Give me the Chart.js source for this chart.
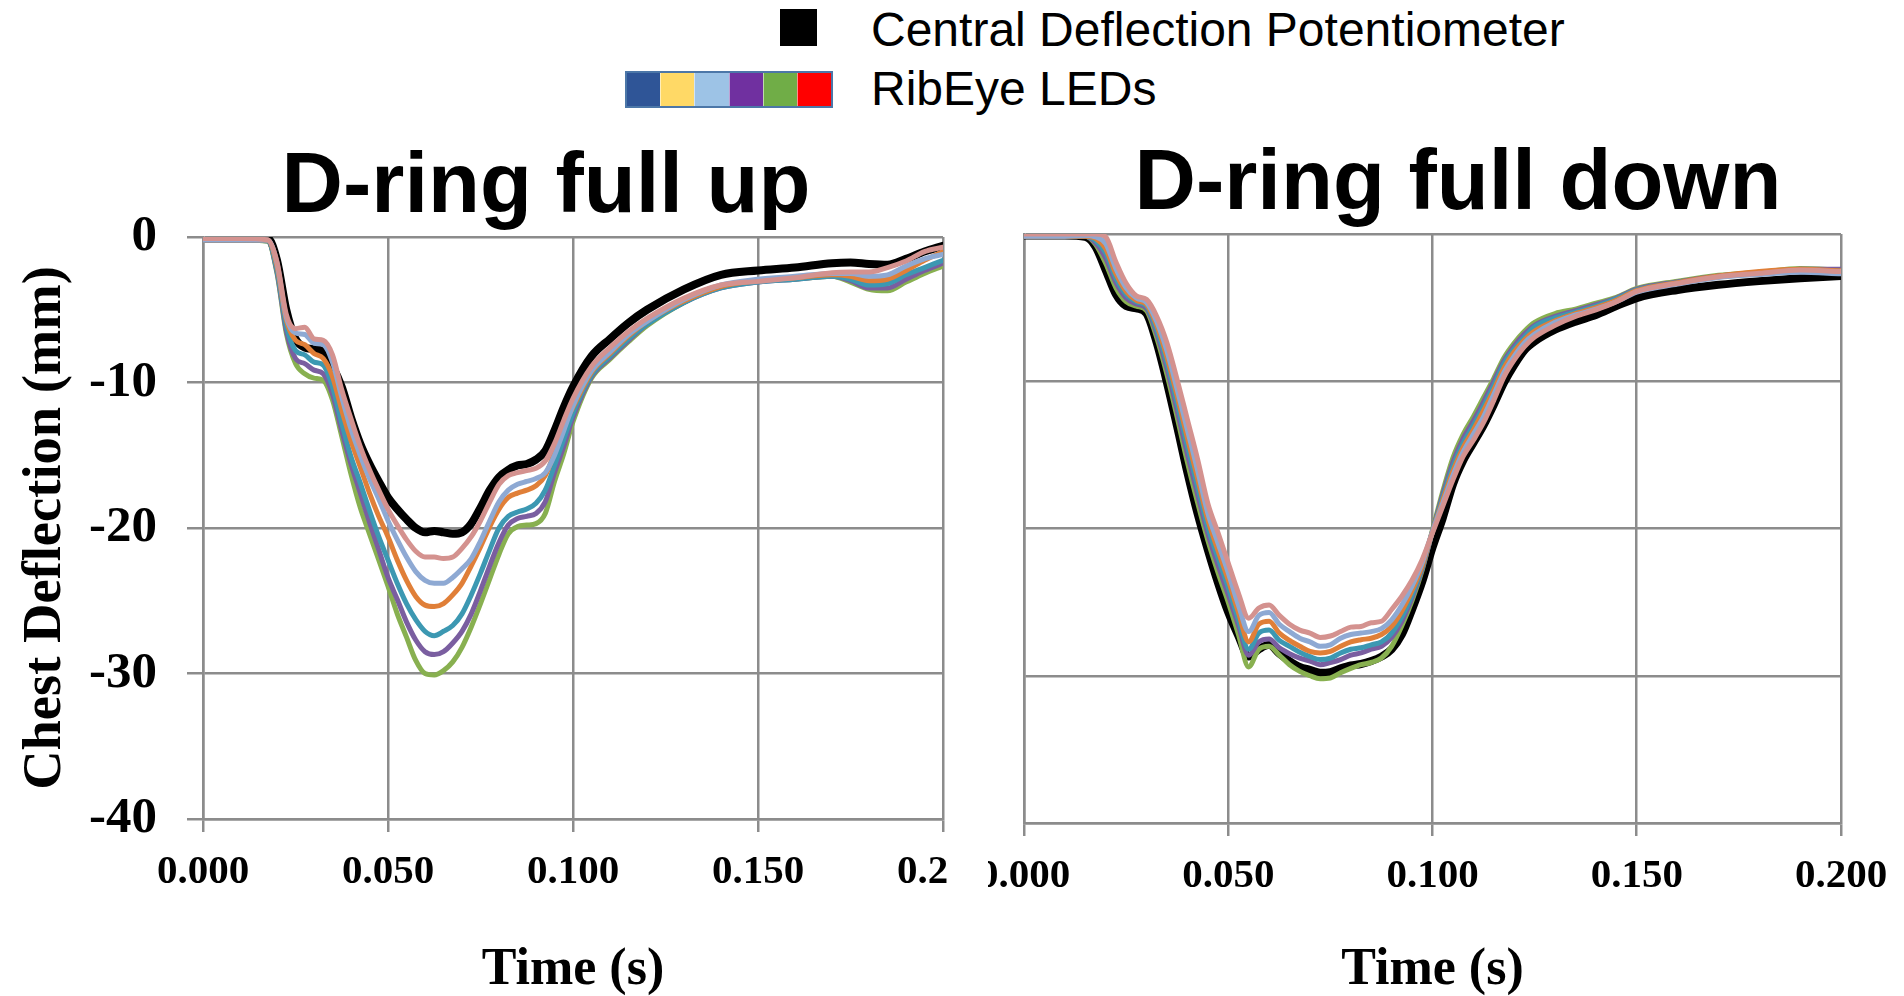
<!DOCTYPE html>
<html>
<head>
<meta charset="utf-8">
<script src="https://cdn.jsdelivr.net/npm/chart.js@4.4.0/dist/chart.umd.min.js"></script>
<style>
  html, body { margin: 0; padding: 0; background: #fff; }
  body { width: 1904px; height: 996px; position: relative; overflow: hidden; font-family: "Liberation Sans", Arial, sans-serif; }
  .box { position: absolute; top: 0; height: 996px; overflow: hidden; }
  #boxUp { left: 0; width: 948px; }
  #boxDown { left: 988px; width: 916px; }
  #boxDown canvas { position: absolute; left: -62px; top: 0; }
  .title { position: absolute; width: 1000px; text-align: center; font-weight: bold; font-size: 85px; line-height: 85px; white-space: nowrap; }
  .lg { position: absolute; left: 871px; font-size: 48px; line-height: 48px; white-space: nowrap; }
  #sqPot { position: absolute; left: 780px; top: 9px; width: 37px; height: 37px; background: #000; }
  #ledBar { position: absolute; left: 625px; top: 71px; width: 204px; height: 33px; display: flex; border: 2px solid #4c77a8; }
  #ledBar span { flex: 1; border-left: 1px solid rgba(255,255,255,.55); }
  #ledBar span:first-child { border-left: none; }
</style>
</head>
<body>
<div id="sqPot"></div>
<div class="lg" style="top:6px">Central Deflection Potentiometer</div>
<div id="ledBar"><span style="background:#2f5597"></span><span style="background:#ffd966"></span><span style="background:#9dc3e6"></span><span style="background:#7030a0"></span><span style="background:#70ad47"></span><span style="background:#ff0000"></span></div>
<div class="lg" style="top:65px">RibEye LEDs</div>

<div class="title" style="left:46px;top:140px">D-ring full up</div>
<div class="title" style="left:958px;top:137px">D-ring full down</div>

<div class="box" id="boxUp"><canvas id="cUp" width="1008" height="996"></canvas></div>
<div class="box" id="boxDown"><canvas id="cDown" width="978" height="996"></canvas></div>

<script>
// ---- D-ring full up (s, mm) ----
const tUp = [0, 0.010, 0.0175, 0.020, 0.0225, 0.025, 0.0275, 0.030, 0.0325, 0.035, 0.0375, 0.040, 0.0425, 0.045, 0.0475,
  0.050, 0.0525, 0.055, 0.0575, 0.060, 0.0625, 0.065, 0.0675, 0.070, 0.0725, 0.075, 0.0775, 0.080, 0.0825, 0.085, 0.0875,
  0.090, 0.0925, 0.095, 0.0975, 0.100, 0.105, 0.110, 0.115, 0.120, 0.130, 0.140, 0.150, 0.160, 0.170, 0.175, 0.180, 0.185,
  0.190, 0.195, 0.200];
const upPot = [-0.1, -0.1, -0.1, -1.6, -5.0, -7.0, -7.6, -7.7, -7.9, -8.9, -10.3, -12.4, -14.2, -15.6, -16.8, -17.9, -18.7,
  -19.4, -20.0, -20.3, -20.2, -20.3, -20.4, -20.3, -19.7, -18.6, -17.4, -16.5, -16.0, -15.7, -15.6, -15.3, -14.7, -13.3,
  -11.7, -10.3, -8.2, -7.0, -5.9, -5.0, -3.6, -2.6, -2.3, -2.1, -1.8, -1.75, -1.85, -1.9, -1.5, -1.0, -0.6];
const upPink = [-0.1, -0.1, -0.2, -1.7, -5.3, -6.3, -6.2, -7.0, -7.1, -8.1, -10.5, -12.5, -14.4, -16.0, -17.4, -18.7, -19.8,
  -20.8, -21.6, -22.0, -22.0, -22.1, -22.0, -21.4, -20.6, -19.5, -18.2, -17.0, -16.4, -16.2, -16.05, -15.9, -15.4, -14.2,
  -12.6, -11.1, -8.9, -7.6, -6.5, -5.6, -4.2, -3.3, -3.05, -2.8, -2.45, -2.4, -2.4, -2.1, -1.65, -1.0, -0.7];
const upLightBlue = [-0.2, -0.2, -0.2, -1.8, -5.5, -6.6, -6.7, -7.3, -7.4, -8.6, -11.0, -13.2, -15.0, -16.6, -18.0, -19.5,
  -20.8, -22.0, -23.0, -23.6, -23.8, -23.8, -23.4, -22.8, -22.1, -20.9, -19.5, -18.2, -17.4, -17.0, -16.8, -16.6, -16.2,
  -15.0, -13.3, -11.6, -9.2, -7.9, -6.7, -5.8, -4.3, -3.3, -2.9, -2.7, -2.5, -2.5, -2.7, -2.6, -2.0, -1.5, -1.2];
const upOrange = [-0.2, -0.2, -0.2, -2.0, -5.7, -7.1, -7.4, -8.0, -8.35, -9.6, -11.9, -14.0, -15.8, -17.6, -19.2, -20.6,
  -22.2, -23.6, -24.7, -25.3, -25.4, -25.2, -24.6, -23.8, -22.6, -21.3, -19.9, -18.7, -17.9, -17.6, -17.4, -17.1, -16.4,
  -14.8, -13.0, -11.7, -9.3, -8.0, -6.8, -5.8, -4.4, -3.4, -3.0, -2.8, -2.6, -2.7, -3.0, -2.9, -2.3, -1.6, -1.0];
const upTeal = [-0.2, -0.2, -0.25, -2.3, -6.1, -7.8, -8.1, -8.6, -8.8, -10.3, -12.8, -15.1, -16.9, -18.8, -20.6, -22.2,
  -23.8, -25.2, -26.3, -27.1, -27.4, -27.1, -26.7, -25.9, -24.6, -23.1, -21.5, -20.0, -19.2, -18.9, -18.7, -18.3, -17.4,
  -15.7, -13.9, -12.1, -9.5, -8.2, -7.0, -6.0, -4.5, -3.5, -3.1, -2.9, -2.7, -2.9, -3.3, -3.2, -2.6, -2.1, -1.6];
const upPurple = [-0.2, -0.2, -0.25, -2.4, -6.4, -8.35, -8.7, -9.15, -9.4, -10.8, -13.3, -15.6, -17.6, -19.6, -21.5, -23.4,
  -24.9, -26.45, -27.7, -28.5, -28.7, -28.5, -27.9, -27.1, -25.9, -24.3, -22.6, -21.0, -19.8, -19.35, -19.2, -19.0, -18.2,
  -16.2, -14.4, -12.4, -9.6, -8.3, -7.1, -6.0, -4.5, -3.5, -3.1, -2.9, -2.7, -3.0, -3.5, -3.5, -2.9, -2.3, -1.8];
const upGreen = [-0.2, -0.2, -0.3, -2.5, -6.6, -8.7, -9.4, -9.7, -9.85, -11.2, -13.7, -16.3, -18.6, -20.4, -22.2, -24.0,
  -25.9, -27.5, -29.1, -30.0, -30.1, -29.8, -29.2, -28.2, -26.8, -25.2, -23.5, -21.8, -20.4, -19.9, -19.8, -19.7, -19.0,
  -16.8, -14.9, -12.7, -9.7, -8.4, -7.2, -6.1, -4.5, -3.4, -3.0, -2.9, -2.7, -3.1, -3.6, -3.7, -3.1, -2.5, -2.0];

// ---- D-ring full down (s, mm) ----
const tDown = [0, 0.010, 0.015, 0.0175, 0.020, 0.0225, 0.025, 0.0275, 0.030, 0.0325, 0.035, 0.0375, 0.040, 0.0425, 0.045,
  0.0475, 0.050, 0.0525, 0.055, 0.0575, 0.060, 0.0625, 0.065, 0.0675, 0.070, 0.0725, 0.075, 0.0775, 0.080, 0.0825, 0.085,
  0.0875, 0.090, 0.0925, 0.095, 0.0975, 0.100, 0.1025, 0.105, 0.1075, 0.110, 0.1125, 0.115, 0.1175, 0.120, 0.1225, 0.125,
  0.130, 0.135, 0.140, 0.145, 0.150, 0.160, 0.170, 0.180, 0.190, 0.200];
const downPot = [-0.1, -0.1, -0.2, -0.86, -2.45, -4.1, -4.9, -5.05, -5.4, -7.4, -10.1, -13.1, -16.2, -19.0, -21.45, -23.7,
  -25.7, -27.3, -28.7, -28.2, -27.9, -28.5, -29.0, -29.4, -29.6, -29.8, -29.75, -29.5, -29.3, -29.2, -29.0, -28.7, -28.2,
  -27.2, -25.5, -23.6, -21.3, -19.3, -17.0, -15.4, -14.2, -13.0, -11.6, -10.1, -8.9, -7.9, -7.3, -6.5, -5.95, -5.5, -4.9,
  -4.35, -3.8, -3.45, -3.2, -3.0, -2.85];
const downPink = [0, 0, 0, 0, -0.2, -1.9, -3.35, -4.2, -4.45, -5.6, -7.4, -9.9, -12.6, -15.3, -18.3, -20.3, -22.35, -24.4,
  -26.1, -25.4, -25.2, -25.9, -26.5, -26.9, -27.1, -27.4, -27.3, -27.0, -26.7, -26.65, -26.4, -26.3, -25.5, -24.6, -23.5,
  -22.1, -20.3, -18.5, -16.7, -15.1, -14.0, -12.8, -11.3, -9.7, -8.55, -7.65, -7.0, -6.2, -5.6, -5.15, -4.6, -3.9, -3.35,
  -2.9, -2.67, -2.44, -2.55];
const downLightBlue = [-0.15, -0.15, -0.1, -0.2, -0.65, -2.35, -3.65, -4.35, -4.65, -5.95, -7.95, -10.55, -13.3, -16.05,
  -18.95, -21.0, -23.0, -25.2, -27.0, -25.9, -25.7, -26.5, -27.0, -27.45, -27.7, -28.0, -27.9, -27.45, -27.2, -27.1, -27.0,
  -26.8, -26.2, -25.2, -23.9, -22.3, -20.2, -18.3, -16.4, -14.8, -13.6, -12.4, -10.9, -9.4, -8.3, -7.4, -6.8, -6.0, -5.5,
  -5.1, -4.6, -3.95, -3.4, -2.95, -2.75, -2.6, -2.7];
const downOrange = [-0.15, -0.15, -0.15, -0.3, -1.0, -2.7, -3.9, -4.5, -4.8, -6.2, -8.35, -11.0, -13.85, -16.6, -19.4, -21.5,
  -23.5, -25.7, -27.7, -26.5, -26.3, -27.1, -27.6, -28.0, -28.35, -28.45, -28.35, -28.0, -27.7, -27.55, -27.45, -27.2,
  -26.65, -25.6, -24.2, -22.5, -20.2, -18.1, -16.1, -14.5, -13.3, -12.0, -10.6, -9.1, -8.0, -7.2, -6.6, -5.9, -5.4, -5.0,
  -4.5, -3.85, -3.3, -2.85, -2.55, -2.4, -2.5];
const downTeal = [-0.15, -0.15, -0.15, -0.45, -1.3, -3.0, -4.1, -4.6, -4.9, -6.5, -8.75, -11.5, -14.4, -17.15, -19.9, -22.0,
  -24.0, -26.2, -28.2, -27.1, -26.9, -27.6, -28.0, -28.4, -28.7, -28.9, -28.8, -28.45, -28.2, -28.1, -27.9, -27.7, -27.1,
  -26.0, -24.5, -22.6, -20.2, -17.9, -15.8, -14.2, -13.0, -11.7, -10.3, -8.8, -7.8, -7.0, -6.3, -5.7, -5.3, -4.9, -4.4,
  -3.8, -3.3, -2.9, -2.7, -2.45, -2.5];
const downPurple = [-0.15, -0.15, -0.15, -0.6, -1.66, -3.3, -4.35, -4.75, -5.05, -6.75, -9.15, -12.0, -14.95, -17.7, -20.35,
  -22.5, -24.5, -26.6, -28.6, -27.7, -27.5, -28.1, -28.5, -28.8, -29.0, -29.25, -29.1, -28.9, -28.6, -28.45, -28.2, -28.0,
  -27.4, -26.3, -24.7, -22.7, -20.2, -17.7, -15.5, -13.9, -12.7, -11.4, -10.0, -8.6, -7.6, -6.8, -6.2, -5.6, -5.2, -4.8,
  -4.35, -3.75, -3.25, -2.85, -2.65, -2.4, -2.4];
const downGreen = [-0.15, -0.15, -0.15, -0.7, -2.0, -3.65, -4.6, -4.9, -5.2, -7.05, -9.55, -12.45, -15.5, -18.25, -20.8,
  -23.0, -25.0, -27.2, -29.4, -28.2, -28.0, -28.6, -29.25, -29.7, -30.0, -30.2, -30.15, -29.8, -29.5, -29.25, -29.1, -28.8,
  -28.0, -26.6, -24.9, -22.8, -20.1, -17.5, -15.2, -13.6, -12.4, -11.1, -9.8, -8.4, -7.4, -6.6, -6.0, -5.4, -5.1, -4.7,
  -4.3, -3.7, -3.2, -2.8, -2.6, -2.35, -2.45];

const xTicks = [0, 0.05, 0.10, 0.15, 0.20];
const yTicks = [0, -10, -20, -30, -40];

const COLORS = {
  pot: '#000000', pink: '#d4928f', lightBlue: '#8ea9d3', orange: '#e07f38',
  teal: '#3c98b2', purple: '#7a5ea0', green: '#88b050'
};
const GRID = '#8c8c8c';
const SERIF = "'Liberation Serif', 'Times New Roman', serif";

Chart.defaults.animation = false;

// first dataset is painted last (on top), so the potentiometer goes at the end
function buildSets(t, s) {
  const list = [
    [s.pink, COLORS.pink, 5], [s.lightBlue, COLORS.lightBlue, 5], [s.orange, COLORS.orange, 5],
    [s.teal, COLORS.teal, 5], [s.purple, COLORS.purple, 5], [s.green, COLORS.green, 5],
    [s.pot, COLORS.pot, 8]
  ];
  return list.map(([v, color, w]) => ({
    data: t.map((x, i) => ({ x, y: v[i] })),
    borderColor: color, borderWidth: w,
    pointRadius: 0, pointHoverRadius: 0, fill: false,
    cubicInterpolationMode: 'monotone',
    borderJoinStyle: 'round', borderCapStyle: 'round'
  }));
}

function makeChart(id, t, s, o) {
  return new Chart(document.getElementById(id), {
    type: 'line',
    data: { datasets: buildSets(t, s) },
    options: {
      responsive: false,
      layout: { padding: { top: o.top, right: o.right, left: 0, bottom: 0 } },
      plugins: { legend: { display: false }, tooltip: { enabled: false }, title: { display: false } },
      scales: {
        x: {
          type: 'linear', min: 0, max: 0.2,
          afterBuildTicks: sc => { sc.ticks = xTicks.map(v => ({ value: v })); },
          afterFit: sc => { sc.height = o.xHeight; },
          ticks: {
            callback: v => v.toFixed(3), color: '#000', padding: 16,
            maxRotation: 0, minRotation: 0, autoSkip: false,
            font: { family: SERIF, size: 41, weight: 'bold' }
          },
          grid: { color: GRID, lineWidth: 2.5, tickLength: 13 },
          border: { color: GRID, width: 2.5 },
          title: {
            display: true, text: 'Time (s)', color: '#000', padding: { top: 0, bottom: -6 },
            font: { family: SERIF, size: 52, weight: 'bold' }
          }
        },
        y: {
          min: -40, max: 0,
          afterBuildTicks: sc => { sc.ticks = yTicks.map(v => ({ value: v })); },
          afterFit: sc => { sc.width = o.yWidth; },
          ticks: {
            display: o.yLabels, color: '#000', padding: 30,
            font: { family: SERIF, size: 51, weight: 'bold' }
          },
          grid: { color: GRID, lineWidth: 2.5, tickLength: 16, drawTicks: o.yLabels },
          border: { color: GRID, width: 2.5 },
          title: {
            display: o.yLabels, text: 'Chest Deflection (mm)', color: '#000', padding: { top: 13, bottom: 0 },
            font: { family: SERIF, size: 54.5, weight: 'bold' }
          }
        }
      }
    }
  });
}

makeChart('cUp', tUp,
  { pot: upPot, pink: upPink, lightBlue: upLightBlue, orange: upOrange, teal: upTeal, purple: upPurple, green: upGreen },
  { top: 237, right: 65, xHeight: 177, yWidth: 203, yLabels: true });

makeChart('cDown', tDown,
  { pot: downPot, pink: downPink, lightBlue: downLightBlue, orange: downOrange, teal: downTeal, purple: downPurple, green: downGreen },
  { top: 234, right: 63, xHeight: 173, yWidth: 98, yLabels: false });
</script>
</body>
</html>
